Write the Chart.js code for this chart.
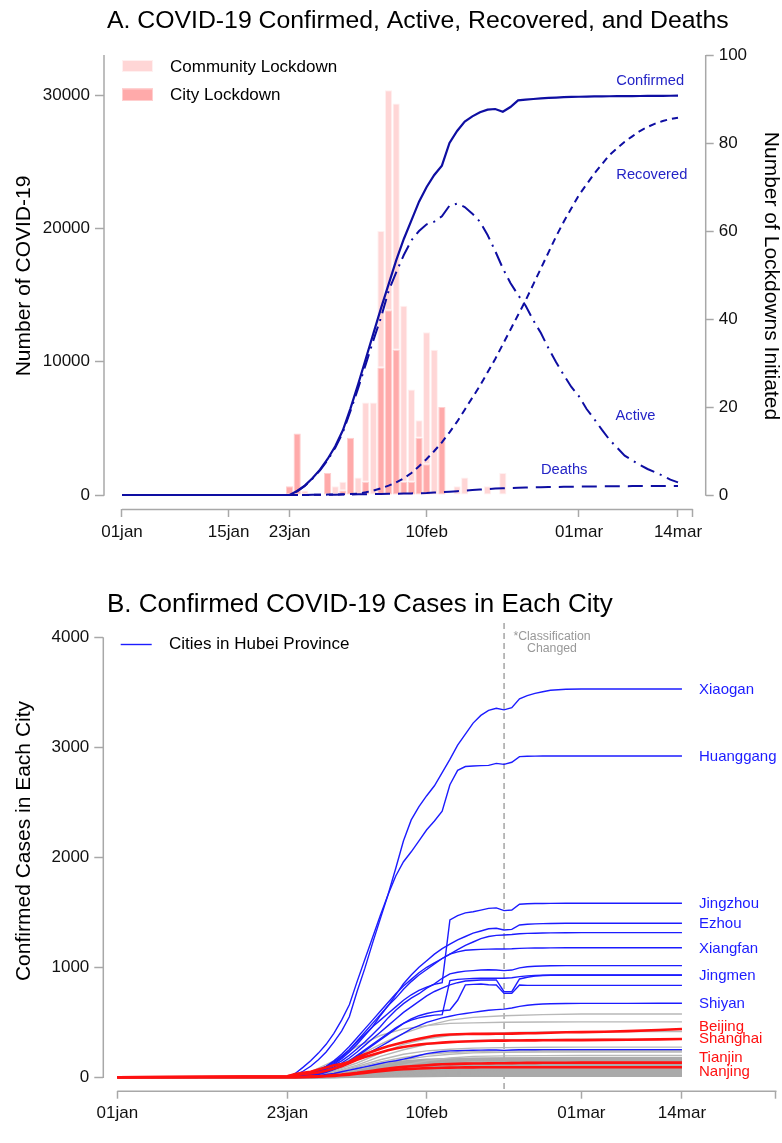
<!DOCTYPE html>
<html><head><meta charset="utf-8">
<script src="https://cdn.jsdelivr.net/npm/chart.js@4.4.1/dist/chart.umd.min.js"></script>
<style>
html,body{margin:0;padding:0;background:#fff;}
canvas{display:block;}
</style></head>
<body>
<canvas id="cA" width="782" height="570"></canvas>
<canvas id="cB" width="782" height="573"></canvas>
<script>
// ---------------- DATA ----------------
const dates = ['01jan','02jan','03jan','04jan','05jan','06jan','07jan','08jan','09jan','10jan','11jan','12jan','13jan','14jan','15jan','16jan','17jan','18jan','19jan','20jan','21jan','22jan','23jan','24jan','25jan','26jan','27jan','28jan','29jan','30jan','31jan',
'01feb','02feb','03feb','04feb','05feb','06feb','07feb','08feb','09feb','10feb','11feb','12feb','13feb','14feb','15feb','16feb','17feb','18feb','19feb','20feb','21feb','22feb','23feb','24feb','25feb','26feb','27feb','28feb','29feb',
'01mar','02mar','03mar','04mar','05mar','06mar','07mar','08mar','09mar','10mar','11mar','12mar','13mar','14mar'];

// Panel A (daily, 01jan..14mar)
const confirmed = [0,0,0,0,0,0,0,0,0,0, 0,0,0,0,0,0,0,0,0,0, 0,0,
 0,300,700,1250,1900,2700,3650,4850,6500,8300,10200,12100,14000,15800,17600,19200,20600,22000,23100,24000,24700,26400,27300,28000,28400,28700,28900,28950,28750,29100,29600,29650,29700,29750,29780,29810,29840,29860,29870,29880,29890,29900,29905,29910,29915,29920,29925,29930,29935,29940,29945,29950];
const active = [0,0,0,0,0,0,0,0,0,0, 0,0,0,0,0,0,0,0,0,0, 0,0,
 0,280,680,1220,1850,2620,3550,4700,6300,8000,9800,11600,13300,15300,16700,18000,19100,19800,20300,20500,20900,21700,21850,21600,21100,20500,19500,18300,17000,15900,15000,14200,13100,12150,11000,9950,9000,8100,7400,6450,5700,4900,4150,3550,2950,2600,2250,1950,1700,1450,1150,950];
const recovered = [0,0,0,0,0,0,0,0,0,0, 0,0,0,0,0,0,0,0,0,0, 0,0,
 0,0,0,10,20,30,40,50,70,100,200,330,500,700,950,1250,1650,2150,2700,3300,3950,4700,5500,6400,7300,8200,9200,10200,11300,12400,13500,14600,15800,17000,18200,19400,20500,21500,22500,23300,24100,24800,25500,26000,26500,26900,27300,27600,27850,28050,28200,28300];
const deaths = [0,0,0,0,0,0,0,0,0,0, 0,0,0,0,0,0,0,0,0,0, 0,0,
 0,5,8,12,16,20,25,30,40,50,60,70,80,90,100,110,120,135,150,180,210,250,290,330,370,410,450,480,500,520,540,555,570,585,595,605,615,625,632,638,644,650,655,660,664,667,670,672,674,676,678,680];

const lockdownDates = ['23jan','24jan','25jan','28jan','29jan','30jan','31jan','01feb','02feb','03feb','04feb','05feb','06feb','07feb','08feb','09feb','10feb','11feb','12feb','14feb','15feb','18feb','20feb'];
const cityLockdowns      = [2,14,null,5,null,1,13,null,3,null,29,42,33,3,3,13,7,null,20,null,null,null,null];
const communityLockdowns = [null,null,1,null,2,2,null,4,18,21,31,50,56,40,21,4,30,33,null,2,4,2,5];

const tickDatesA = ['01jan','15jan','23jan','10feb','01mar','14mar'];
const lineLabelsA = ['Confirmed','Recovered','Active','Deaths'];

// Panel B
const cityDates = ['01jan','23jan','24jan','25jan','26jan','27jan','28jan','29jan','30jan','31jan','01feb','02feb','03feb','04feb','05feb','06feb','07feb','08feb','09feb','10feb','11feb','12feb','13feb','14feb','15feb','16feb','17feb','18feb','19feb','20feb','21feb','22feb','23feb','24feb','25feb','26feb','28feb','01mar','04mar','07mar','11mar','14mar'];
const xiaogan   = [0, 0,20,55,100,160,230,320,420,550, 780,990,1220,1440,1660,1900,2150,2340,2460,2560,2650,2770,2890,3020,3120,3220,3290,3335,3355,3340,3360,3440,3470,3490,3505,3518, 3528,3530,3530,3530,3530,3530];
const huanggang = [0, 0,35,90,150,220,300,400,520,660, 870,1070,1270,1470,1660,1830,1960,2050,2150,2250,2330,2420,2660,2790,2825,2830,2833,2836,2854,2845,2864,2915,2918,2920,2921,2921, 2921,2921,2921,2921,2921,2921];
const jingzhou  = [0, 0,5,20,40,70,100,140,190,250, 320,390,460,520,580,640,700,750,790,820,845,860,1430,1470,1495,1505,1520,1536,1540,1515,1521,1573,1578,1580,1580,1581, 1582,1582,1582,1582,1582,1582];
const ezhou     = [0, 0,2,10,25,50,80,120,170,230, 300,380,460,560,650,750,850,930,1000,1060,1120,1170,1210,1250,1280,1310,1330,1350,1355,1339,1345,1385,1392,1395,1397,1398, 1400,1400,1400,1400,1400,1400];
const suizhou   = [0, 0,3,12,30,55,90,130,180,250, 330,410,490,570,650,720,800,870,930,980,1030,1080,1120,1160,1200,1230,1260,1280,1290,1294,1298,1305,1308,1310,1312,1313, 1314,1315,1315,1315,1315,1315];
const xiangfan  = [0, 0,5,15,35,60,100,150,210,280, 360,440,520,600,680,760,830,890,950,1000,1040,1080,1120,1140,1155,1160,1163,1165,1166,1166,1168,1172,1174,1175,1176,1177, 1178,1178,1178,1178,1178,1178];
const huangshi  = [0, 0,5,15,30,50,75,110,150,200, 260,320,390,460,540,610,670,720,760,810,850,900,940,955,965,970,975,978,975,970,975,995,1005,1010,1012,1014, 1015,1015,1015,1015,1015,1015];
const yichang   = [0, 0,2,8,20,35,55,80,110,150, 200,250,300,350,400,450,490,520,540,555,565,570,880,890,895,898,900,900,900,900,905,915,922,926,928,930, 931,931,931,931,931,931];
const jingmen   = [0, 0,2,8,20,40,65,95,130,175, 230,290,350,410,470,530,590,640,690,740,780,810,840,860,875,880,884,885,885,778,778,894,910,920,925,927, 928,928,928,928,928,928];
const xianning  = [0, 0,1,5,12,25,45,70,100,140, 190,240,290,340,390,440,490,530,560,580,595,605,612,700,840,845,848,842,839,763,763,839,836,836,836,836, 836,836,836,836,836,836];
const shiyan    = [0, 0,2,8,18,30,50,75,100,130, 165,200,240,280,320,360,400,440,470,500,520,540,555,570,580,590,600,610,615,620,630,645,655,662,666,669, 671,672,672,672,673,673];
const enshi     = [0, 0,1,3,8,15,25,35,50,65, 80,95,110,125,140,150,165,180,198,215,225,235,240,242,245,246,247,248,248,245,248,250,251,251,252,252, 252,252,252,252,252,252];
const beijing   = [0, 10,30,40,50,70,90,110,120,140, 180,210,235,260,282,300,318,335,350,365,378,385,389,392,394,395,395,395,396,396,397,399,400,401,403,405, 410,411,414,420,430,439];
const shanghai  = [0, 10,20,30,35,45,60,80,100,130, 160,185,205,225,245,262,275,287,297,305,310,315,320,323,326,328,330,332,333,333,334,335,336,336,337,337, 338,338,340,342,345,348];
const tianjin   = [0, 0,2,5,8,10,14,20,25,32, 40,50,60,70,80,88,95,100,105,110,115,118,120,122,124,125,126,127,128,128,129,130,131,131,132,132, 132,133,133,133,133,133];
const nanjing   = [0, 0,0,1,3,6,9,13,18,24, 32,40,48,55,62,68,73,77,80,83,85,87,88,89,90,90,91,91,91,91,91,91,91,91,91,91, 91,91,91,91,91,91];
const hubeiCities = [xiaogan,huanggang,jingzhou,ezhou,suizhou,xiangfan,huangshi,yichang,jingmen,xianning,shiyan,enshi];
const refCities = [beijing,shanghai,tianjin,nanjing];

const grayDates = ['01jan','23jan','26jan','29jan','01feb','04feb','07feb','10feb','13feb','16feb','20feb','25feb','01mar','14mar'];
const otherCities = [
 [0,0,30,90,190,300,400,470,520,545,560,570,575,576],
 [0,0,50,150,280,380,440,470,490,495,500,503,504,504],
 [0,0,20,60,130,220,300,350,380,395,405,412,415,417],
 [0,0,15,50,110,190,250,300,320,335,340,344,346,346],
 [0,0,10,40,100,160,210,240,255,265,270,273,274,274],
 [0,0,10,40,90,140,180,210,225,235,240,242,242,242],
 [0,0,8,30,70,120,160,190,210,222,228,230,230,230],
 [0,0,3,12,35,70,110,150,175,190,195,197,198,198],
 [0,0,5,20,60,100,135,155,165,170,173,174,174,174],
 [0,0,6,25,70,120,145,160,165,168,169,169,169,169],
 [0,0,2,10,35,70,110,140,155,158,160,160,160,160],
 [0,0,5,20,50,90,120,140,150,155,157,157,157,157],
 [0,0,6,25,60,100,130,145,152,155,156,156,156,156],
 [0,0,4,18,50,90,125,145,152,155,155,155,155,155],
 [0,0,3,12,40,75,105,125,133,137,139,139,139,139],
 [0,0,2,8,30,60,95,115,125,128,130,130,130,130],
 [0,0,3,12,35,65,95,110,118,121,123,123,123,123],
 [0,0,4,15,40,70,95,108,114,117,118,118,118,118],
 [0,0,2,10,30,55,80,95,100,101,102,102,102,102],
 [0,0,3,12,30,55,75,88,94,97,99,99,99,99],
 [0,0,5,18,40,65,80,90,95,97,98,98,98,98],
 [0,0,3,10,25,45,62,74,80,83,84,84,84,84],
 [0,0,2,8,25,45,62,74,79,81,82,82,82,82],
 [0,0,2,8,22,40,58,68,73,75,76,76,76,76],
 [0,0,1,6,18,35,50,60,66,68,70,70,70,70],
 [0,0,1,5,15,30,43,52,57,59,60,60,60,60],
 [0,0,1,4,12,25,36,44,47,49,50,50,50,50],
 [0,0,1,3,10,20,29,35,38,39,40,40,40,40],
 [0,0,1,2,8,15,22,26,28,29,30,30,30,30],
 [0,0,0,2,5,10,14,17,19,20,20,20,20,20],
 [0,0,0,1,3,6,9,11,12,12,12,12,12,12]
];
const tickDatesB = ['01jan','23jan','10feb','01mar','14mar'];
const cityLabelNames = ['Xiaogan','Huanggang','Jingzhou','Ezhou','Xiangfan','Jingmen','Shiyan','Beijing','Shanghai','Tianjin','Nanjing'];
const cityLabelValues = [3521,2915,1575,1391,1164,921,666,460,345,178,45];
const cityLabelGroup = ['hubei','hubei','hubei','hubei','hubei','hubei','hubei','ref','ref','ref','ref'];

// ---------------- STYLE ----------------
const FONT = "'Liberation Sans', Arial, Helvetica, sans-serif";
const AXIS = '#a8a8a8';
const NAVY = '#0e0ea2';
const NAVY_TXT = '#2424c6';
const BLUE = '#1c1cff';
const RED = '#ff1010';
const dayOf = d => dates.indexOf(d);
const pts = (xs, ys) => xs.map((d, i) => ({x: dayOf(d), y: ys[i]}));

const deco = {
  id: 'deco',
  beforeDatasetsDraw(chart, args, o) {
    if (!o.vline) return;
    const ctx = chart.ctx, ca = chart.chartArea, xs = chart.scales.x;
    const px = xs.getPixelForValue(dayOf(o.vline.date));
    ctx.save();
    ctx.strokeStyle = o.vline.color; ctx.lineWidth = 1; ctx.setLineDash([6, 4]);
    ctx.beginPath(); ctx.moveTo(px, ca.top); ctx.lineTo(px, ca.bottom); ctx.stroke();
    ctx.restore();
  },
  afterDraw(chart, args, o) {
    const ctx = chart.ctx, ca = chart.chartArea, xs = chart.scales.x;
    ctx.save();
    ctx.strokeStyle = AXIS; ctx.lineWidth = 1.5;
    ctx.beginPath();
    ctx.moveTo(xs.getPixelForValue(o.xAxis[0]), ca.bottom + 0.5);
    ctx.lineTo(xs.getPixelForValue(o.xAxis[1]) + 0.75, ca.bottom + 0.5);
    ctx.stroke();
    o.yAxes.forEach(a => {
      const sc = chart.scales[a.id];
      const x = a.side === 'left' ? ca.left : ca.right;
      ctx.beginPath();
      ctx.moveTo(x, sc.getPixelForValue(a.range[0]) + 0.75);
      ctx.lineTo(x, sc.getPixelForValue(a.range[1]));
      ctx.stroke();
    });
    (o.swatches || []).forEach(s => {
      ctx.fillStyle = s.color; ctx.fillRect(s.x, s.y, s.w, s.h);
      ctx.strokeStyle = s.border; ctx.lineWidth = 1; ctx.strokeRect(s.x + 0.5, s.y + 0.5, s.w - 1, s.h - 1);
    });
    (o.legendLines || []).forEach(l => {
      ctx.strokeStyle = l.color; ctx.lineWidth = l.width;
      ctx.beginPath(); ctx.moveTo(l.x0, l.y); ctx.lineTo(l.x1, l.y); ctx.stroke();
    });
    (o.texts || []).forEach(t => {
      ctx.font = t.font; ctx.fillStyle = t.color; ctx.textAlign = t.align || 'left'; ctx.textBaseline = 'middle';
      let x = t.x, y = t.y;
      if (t.data) { x = xs.getPixelForValue(t.x); y = chart.scales[t.scale || 'y'].getPixelForValue(t.y); }
      if (t.rot) { ctx.save(); ctx.translate(x, y); ctx.rotate(t.rot); ctx.fillText(t.text, 0, 0); ctx.restore(); }
      else ctx.fillText(t.text, x, y);
    });
    ctx.restore();
  }
};

const tickFont = {family: FONT, size: 17};
const gridTicks = len => ({display: true, offset: false, drawOnChartArea: false, drawTicks: true, tickLength: len, tickColor: AXIS, tickWidth: 1.5});

// ---------------- CHART A ----------------
const xEndA = 74.84;
new Chart(document.getElementById('cA'), {
  type: 'line',
  data: {
    datasets: [
      {type: 'bar', label: 'City Lockdown', data: pts(lockdownDates, cityLockdowns), yAxisID: 'y1', stack: 'lock',
       backgroundColor: '#ffaaaa', borderColor: '#ffcfcf', borderWidth: 1, borderSkipped: false,
       barPercentage: 0.95, categoryPercentage: 1, order: 3},
      {type: 'bar', label: 'Community Lockdown', data: pts(lockdownDates, communityLockdowns), yAxisID: 'y1', stack: 'lock',
       backgroundColor: '#ffd6d6', borderColor: '#fff0f0', borderWidth: 1, borderSkipped: false,
       barPercentage: 0.95, categoryPercentage: 1, order: 3},
      {label: 'Confirmed', data: pts(dates, confirmed), borderColor: NAVY, borderWidth: 2.2, pointRadius: 0, tension: 0, order: 1},
      {label: 'Recovered', data: pts(dates, recovered), borderColor: NAVY, borderWidth: 2, borderDash: [7, 5], pointRadius: 0, tension: 0, order: 1},
      {label: 'Deaths', data: pts(dates, deaths), borderColor: NAVY, borderWidth: 2, borderDash: [15, 8], pointRadius: 0, tension: 0, order: 1},
      {label: 'Active', data: pts(dates, active), borderColor: NAVY, borderWidth: 2, borderDash: [15, 6, 2, 6], pointRadius: 0, tension: 0, order: 1}
    ]
  },
  options: {
    responsive: false, animation: false, devicePixelRatio: 1,
    layout: {padding: {top: 55, left: 0, right: 0, bottom: 0}},
    plugins: {
      legend: {display: false}, tooltip: {enabled: false}, title: {display: false},
      deco: {
        xAxis: [0, xEndA],
        yAxes: [{id: 'y', side: 'left', range: [0, 33000]}, {id: 'y1', side: 'right', range: [0, 100]}],
        swatches: [
          {x: 122, y: 60, w: 31, h: 12, color: '#ffd6d6', border: '#fff0f0'},
          {x: 122, y: 88.5, w: 31, h: 12.5, color: '#ffaaaa', border: '#ffcfcf'}
        ],
        texts: [
          {text: 'A. COVID-19 Confirmed, Active, Recovered, and Deaths', x: 107, y: 21, font: `24.8px ${FONT}`, color: '#000'},
          {text: 'Number of COVID-19', x: 24, y: 276, rot: -Math.PI / 2, align: 'center', font: `21px ${FONT}`, color: '#000'},
          {text: 'Number of Lockdowns Initiated', x: 771, y: 276, rot: Math.PI / 2, align: 'center', font: `21px ${FONT}`, color: '#000'},
          {text: 'Community Lockdown', x: 170, y: 67, font: `17px ${FONT}`, color: '#000'},
          {text: 'City Lockdown', x: 170, y: 95.5, font: `17px ${FONT}`, color: '#000'},
          {text: lineLabelsA[0], data: true, x: 64.9, y: 31075, font: `14.7px ${FONT}`, color: NAVY_TXT},
          {text: lineLabelsA[1], data: true, x: 64.9, y: 24000, font: `14.7px ${FONT}`, color: NAVY_TXT},
          {text: lineLabelsA[2], data: true, x: 64.8, y: 5925, font: `14.7px ${FONT}`, color: NAVY_TXT},
          {text: lineLabelsA[3], data: true, x: 55.0, y: 1875, font: `14.7px ${FONT}`, color: NAVY_TXT}
        ]
      }
    },
    scales: {
      x: {
        type: 'linear', min: -2.363, max: 76.637, offset: false,
        afterFit: s => { s.height = 61; },
        afterBuildTicks: s => { s.ticks = tickDatesA.map(d => ({value: dayOf(d)})).concat([{value: xEndA}]); },
        ticks: {font: tickFont, color: '#111', padding: 5, autoSkip: false, maxRotation: 0,
          callback: v => { const i = tickDatesA.findIndex(d => dayOf(d) === v); return i >= 0 ? tickDatesA[i] : ''; }},
        grid: gridTicks(8), border: {display: false}
      },
      y: {
        type: 'linear', position: 'left', min: -1050, max: 33000,
        afterFit: s => { s.width = 104; },
        afterBuildTicks: s => { s.ticks = [0, 10000, 20000, 30000].map(v => ({value: v})); },
        ticks: {font: tickFont, color: '#111', padding: 5, callback: v => String(v)},
        grid: gridTicks(9), border: {display: false}
      },
      y1: {
        type: 'linear', position: 'right', min: -3.1818, max: 100, stacked: true,
        afterFit: s => { s.width = 76.3; },
        afterBuildTicks: s => { s.ticks = [0, 20, 40, 60, 80, 100].map(v => ({value: v})); },
        ticks: {font: tickFont, color: '#111', padding: 5, callback: v => String(v)},
        grid: gridTicks(8), border: {display: false}
      }
    }
  },
  plugins: [deco]
});

// ---------------- CHART B ----------------
const xEndB = 85.12;
const dsB = [];
refCities.forEach(c => dsB.push({data: pts(cityDates, c), borderColor: RED, borderWidth: 2.6, pointRadius: 0, tension: 0, order: 1}));
hubeiCities.forEach(c => dsB.push({data: pts(cityDates, c), borderColor: BLUE, borderWidth: 1.4, pointRadius: 0, tension: 0, order: 2}));
otherCities.forEach((c, i) => dsB.push({data: pts(grayDates, c), borderColor: i < 8 ? '#b8b8b8' : '#aaaaaa',
  borderWidth: i < 8 ? 1.4 : 2.2, pointRadius: 0, tension: 0, order: 3}));

const textsB = [
  {text: 'B. Confirmed COVID-19 Cases in Each City', x: 107, y: 35, font: `26px ${FONT}`, color: '#000'},
  {text: 'Confirmed Cases in Each City', x: 24, y: 271, rot: -Math.PI / 2, align: 'center', font: `21px ${FONT}`, color: '#000'},
  {text: 'Cities in Hubei Province', x: 169, y: 74.5, font: `17px ${FONT}`, color: '#000'},
  {text: '*Classification', data: true, x: 56.2, y: 4005, align: 'center', font: `12.3px ${FONT}`, color: '#999'},
  {text: 'Changed', data: true, x: 56.2, y: 3900, align: 'center', font: `12.3px ${FONT}`, color: '#999'}
];
cityLabelNames.forEach((n, i) => textsB.push({text: n, data: true, x: 75.2, y: cityLabelValues[i],
  font: `15px ${FONT}`, color: cityLabelGroup[i] === 'hubei' ? BLUE : RED}));

new Chart(document.getElementById('cB'), {
  type: 'line',
  data: {datasets: dsB},
  options: {
    responsive: false, animation: false, devicePixelRatio: 1,
    layout: {padding: {top: 53, left: 0, right: 6.3, bottom: 0}},
    plugins: {
      legend: {display: false}, tooltip: {enabled: false}, title: {display: false},
      deco: {
        xAxis: [0, xEndB],
        yAxes: [{id: 'y', side: 'left', range: [0, 4000]}],
        vline: {date: '20feb', color: '#777'},
        legendLines: [{x0: 120.7, x1: 151.7, y: 74.5, color: BLUE, width: 1.4}],
        texts: textsB
      }
    },
    scales: {
      x: {
        type: 'linear', min: -1.81, max: xEndB, offset: false,
        afterFit: s => { s.height = 52.3; },
        afterBuildTicks: s => { s.ticks = tickDatesB.map(d => ({value: dayOf(d)})).concat([{value: xEndB}]); },
        ticks: {font: tickFont, color: '#111', padding: 4, autoSkip: false, maxRotation: 0,
          callback: v => { const i = tickDatesB.findIndex(d => dayOf(d) === v); return i >= 0 ? tickDatesB[i] : ''; }},
        grid: gridTicks(8), border: {display: false}
      },
      y: {
        type: 'linear', position: 'left', min: -121.8, max: 4130,
        afterFit: s => { s.width = 103.3; },
        afterBuildTicks: s => { s.ticks = [0, 1000, 2000, 3000, 4000].map(v => ({value: v})); },
        ticks: {font: tickFont, color: '#111', padding: 5, callback: v => String(v)},
        grid: gridTicks(9), border: {display: false}
      }
    }
  },
  plugins: [deco]
});
</script>
</body></html>
